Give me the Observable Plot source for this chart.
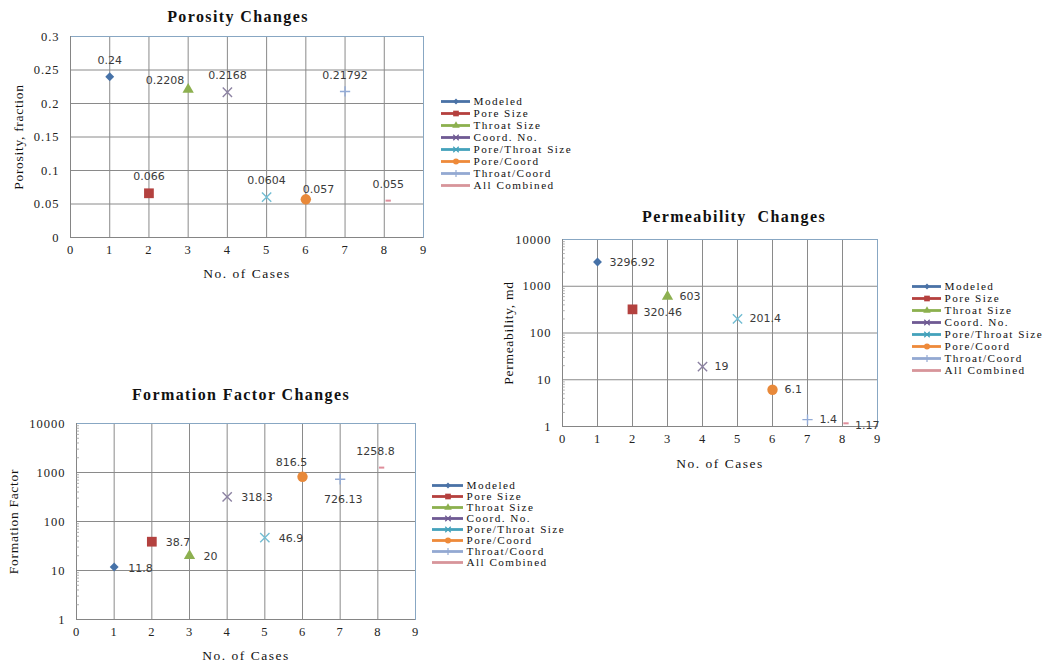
<!DOCTYPE html>
<html><head><meta charset="utf-8">
<script src="https://cdn.jsdelivr.net/npm/d3@7"></script>
<script src="https://cdn.jsdelivr.net/npm/@observablehq/plot@0.6"></script>
<style>
html,body{margin:0;padding:0;background:#fff;}
body{width:1043px;height:663px;position:relative;overflow:hidden;font-family:"Liberation Serif",serif;color:#111;}
.box{position:absolute;}
.box svg{display:block;max-width:none;background:none;}
.title{position:absolute;font-family:"Liberation Serif",serif;font-weight:bold;font-size:16px;line-height:16px;letter-spacing:1.4px;white-space:pre;transform:translateX(-50%);color:#111;}
.box g[aria-label="x-axis tick label"] text,.box g[aria-label="y-axis tick label"] text{font-family:"Liberation Serif",serif;font-size:12.5px;letter-spacing:1px;fill:#222;}
.box g[aria-label="x-axis label"] text{font-family:"Liberation Serif",serif;font-size:13.5px;letter-spacing:1.5px;fill:#111;}
.box g[aria-label="y-axis label"] text{font-family:"Liberation Serif",serif;font-size:13.5px;letter-spacing:0.7px;fill:#111;}
.legend g[aria-label="text"] text{font-family:"Liberation Serif",serif;font-size:11.2px;letter-spacing:1.45px;fill:#111;}
</style></head><body>
<script>
// ---------- data ----------
const cases = [1, 2, 3, 4, 5, 6, 7, 8.1];
const seriesNames = ["Modeled","Pore Size","Throat Size","Coord. No.","Pore/Throat Size","Pore/Coord","Throat/Coord","All Combined"];
const porosity = [0.24, 0.066, 0.2208, 0.2168, 0.0604, 0.057, 0.21792, 0.055];
const porosityLabels = ["0.24","0.066","0.2208","0.2168","0.0604","0.057","0.21792","0.055"];
const permeability = [3296.92, 320.46, 603, 19, 201.4, 6.1, 1.4, 1.17];
const permeabilityLabels = ["3296.92","320.46","603","19","201.4","6.1","1.4","1.17"];
const formationFactor = [11.8, 38.7, 20, 318.3, 46.9, 816.5, 726.13, 1258.8];
const formationFactorLabels = ["11.8","38.7","20","318.3","46.9","816.5","726.13","1258.8"];
const xTicks = [0, 1, 2, 3, 4, 5, 6, 7, 8, 9];
const porosityTicks = [0, 0.05, 0.1, 0.15, 0.2, 0.25, 0.3];
const porosityTickLabels = ["0","0.05","0.1","0.15","0.2","0.25","0.3"];
const logTicks = [1, 10, 100, 1000, 10000];
const logTickLabels = ["1","10","100","1000","10000"];
const logMinorTicks = [1,10,100,1000].flatMap(b => [2,3,4,5,6,7,8,9].map(m => b * m));

// ---------- styles ----------
const gridColor = "#8a8a8a";
const frameColor = "#88a7c3";
const axisColor = "#858585";
const seriesColors = ["#4672A8","#B3413F","#8DB050","#8C82A2","#72BDD3","#E8893A","#93ABD6","#DF8E9B"];
const legendColors = ["#4A72A6","#B5403E","#8CB04E","#6F5A93","#44A2BB","#EE8A3A","#93A9D2","#D7959A"];
const seriesSymbols = ["diamond2","square","triangle","times","times","circle","plus","dash"];
const dotRadius = [4, 5.5, 4.2, 4.3, 4.3, 5.2, 3.4, 3];
const legendRadius = [2.6, 3.2, 2.8, 2.6, 2.6, 3.0, 2.4, 0];
const strokedSymbols = new Set(["times","plus","dash"]);
const dashSymbol = {draw(context, size) { const w = Math.sqrt(size) * 0.5; context.moveTo(-w, 0); context.lineTo(w, 0); }};
const symbolOf = s => s === "dash" ? dashSymbol : s;

// label placement keywords -> offsets
const placements = {
  above: {dx: 0, dy: -16.5, anchor: "middle"},
  leftUp: {dx: -4, dy: -9, anchor: "end"},
  rightUp: {dx: -3, dy: -10, anchor: "start"},
  right: {dx: 12, dy: 0, anchor: "start"},
  rightLevel: {dx: 11, dy: 3, anchor: "start"},
  rightLow: {dx: 9, dy: 2, anchor: "start"},
  right14: {dx: 14, dy: 1, anchor: "start"},
  aboveLeft: {dx: -11, dy: -14, anchor: "middle"},
  below: {dx: 3, dy: 20, anchor: "middle"},
  aboveLeft2: {dx: -6, dy: -16.5, anchor: "middle"}
};
const porosityPlaces = ["above","above","leftUp","above","above","rightUp","above","above"];
const permeabilityPlaces = ["right","rightLevel","right","right","right","right","right","rightLow"];
const formationPlaces = ["right14","right14","right14","right14","right14","aboveLeft","below","aboveLeft2"];

function makeChart(cfg) {
  const rows = cases.map((x, i) => ({x, y: cfg.values[i], label: cfg.labels[i], place: cfg.places[i], i}));
  const fmt = d => cfg.yTickLabels[cfg.yTicks.indexOf(d)];
  const marks = [
    Plot.gridX(xTicks, {stroke: gridColor, strokeOpacity: 1}),
    Plot.gridY(cfg.yTicks, {stroke: gridColor, strokeOpacity: 1}),
    Plot.frame({stroke: frameColor}),
    Plot.ruleX([0], {stroke: axisColor}),
    Plot.ruleY([cfg.yDomain[0]], {stroke: axisColor})
  ];
  if (cfg.minor) marks.push(Plot.ruleY(cfg.minor, {x1: 0, x2: 0.08, stroke: "#9a9a9a", strokeWidth: 0.8}));
  marks.push(Plot.axisX(xTicks, {tickSize: 0, tickPadding: 8, tickFormat: d => String(d), label: "No. of Cases", labelAnchor: "center", labelOffset: cfg.xLabelOffset, labelArrow: "none"}));
  marks.push(Plot.axisY(cfg.yTicks, {tickSize: 0, tickPadding: 11, tickFormat: fmt, label: cfg.yLabel, labelAnchor: "center", labelOffset: cfg.yLabelOffset, labelArrow: "none"}));
  seriesNames.forEach((name, i) => {
    const sym = seriesSymbols[i];
    const stroked = strokedSymbols.has(sym);
    marks.push(Plot.dot(rows.filter(r => r.i === i), {
      x: "x", y: "y", symbol: symbolOf(sym), r: dotRadius[i],
      fill: stroked ? "none" : seriesColors[i],
      stroke: stroked ? seriesColors[i] : "none",
      strokeWidth: sym === "dash" ? 2 : 1.4
    }));
  });
  for (const [key, p] of Object.entries(placements)) {
    const sub = rows.filter(r => r.place === key);
    if (sub.length) marks.push(Plot.text(sub, {x: "x", y: "y", text: "label", dx: p.dx, dy: p.dy, textAnchor: p.anchor, fontFamily: "DejaVu Sans", fontSize: 11, fill: "#3a3a3a"}));
  }
  return Plot.plot({
    width: cfg.width, height: cfg.height,
    marginLeft: cfg.m[0], marginRight: cfg.m[1], marginTop: cfg.m[2], marginBottom: cfg.m[3],
    x: {domain: [0, 9]},
    y: {type: cfg.yType, domain: cfg.yDomain},
    marks
  });
}

function makeLegend(cfg) {
  const marks = [];
  seriesNames.forEach((name, i) => {
    const sym = seriesSymbols[i];
    const stroked = strokedSymbols.has(sym);
    marks.push(Plot.ruleY([name], {y: d => d, x1: 0, x2: cfg.line, stroke: legendColors[i], strokeWidth: 2.8}));
    if (legendRadius[i] > 0) marks.push(Plot.dot([name], {x: cfg.line / 2, y: d => d, symbol: symbolOf(sym), r: legendRadius[i],
      fill: stroked ? "none" : legendColors[i], stroke: stroked ? legendColors[i] : "none", strokeWidth: 1.2}));
    marks.push(Plot.text([name], {x: cfg.line + 3, y: d => d, text: d => d, textAnchor: "start"}));
  });
  return Plot.plot({
    width: cfg.width, height: cfg.height, margin: 0,
    x: {type: "identity", axis: null},
    y: {type: "point", domain: seriesNames, range: cfg.yRange, axis: null},
    marks
  });
}

function place(node, left, top, cls) {
  const d = document.createElement("div");
  d.className = cls || "box";
  d.style.left = left + "px"; d.style.top = top + "px";
  d.appendChild(node);
  document.body.appendChild(d);
}
function title(text, cx, top) {
  const t = document.createElement("div");
  t.className = "title"; t.textContent = text;
  t.style.left = cx + "px"; t.style.top = top + "px";
  document.body.appendChild(t);
}

// Porosity
place(makeChart({values: porosity, labels: porosityLabels, places: porosityPlaces, yType: "linear", yDomain: [0, 0.3],
  yTicks: porosityTicks, yTickLabels: porosityTickLabels, yLabel: "Porosity, fraction",
  width: 440, height: 282, m: [70, 17, 36, 45], xLabelOffset: 40, yLabelOffset: 57}), 0, 0);
title("Porosity Changes", 238, 8.6);
place(makeLegend({width: 140, height: 112, line: 29, yRange: [7, 103]}), 441, 88, "box legend");

// Permeability
place(makeChart({values: permeability, labels: permeabilityLabels, places: permeabilityPlaces, yType: "log", yDomain: [1, 10000],
  yTicks: logTicks, yTickLabels: logTickLabels, minor: logMinorTicks, yLabel: "Permeability, md",
  width: 410, height: 270, m: [72, 23, 39, 44], xLabelOffset: 41, yLabelOffset: 59}), 490, 200);
title("Permeability  Changes", 734, 208.6);
place(makeLegend({width: 131, height: 122, line: 29, yRange: [7.5, 111]}), 912, 269, "box legend");

// Formation factor
place(makeChart({values: formationFactor, labels: formationFactorLabels, places: formationPlaces, yType: "log", yDomain: [1, 10000],
  yTicks: logTicks, yTickLabels: logTickLabels, minor: logMinorTicks, yLabel: "Formation Factor",
  width: 430, height: 283, m: [76, 15, 43, 44], xLabelOffset: 40, yLabelOffset: 68}), 0, 380);
title("Formation Factor Changes", 241, 386.6);
place(makeLegend({width: 140, height: 110, line: 31, yRange: [7, 99.4]}), 432, 470, "box legend");
</script>
</body></html>
